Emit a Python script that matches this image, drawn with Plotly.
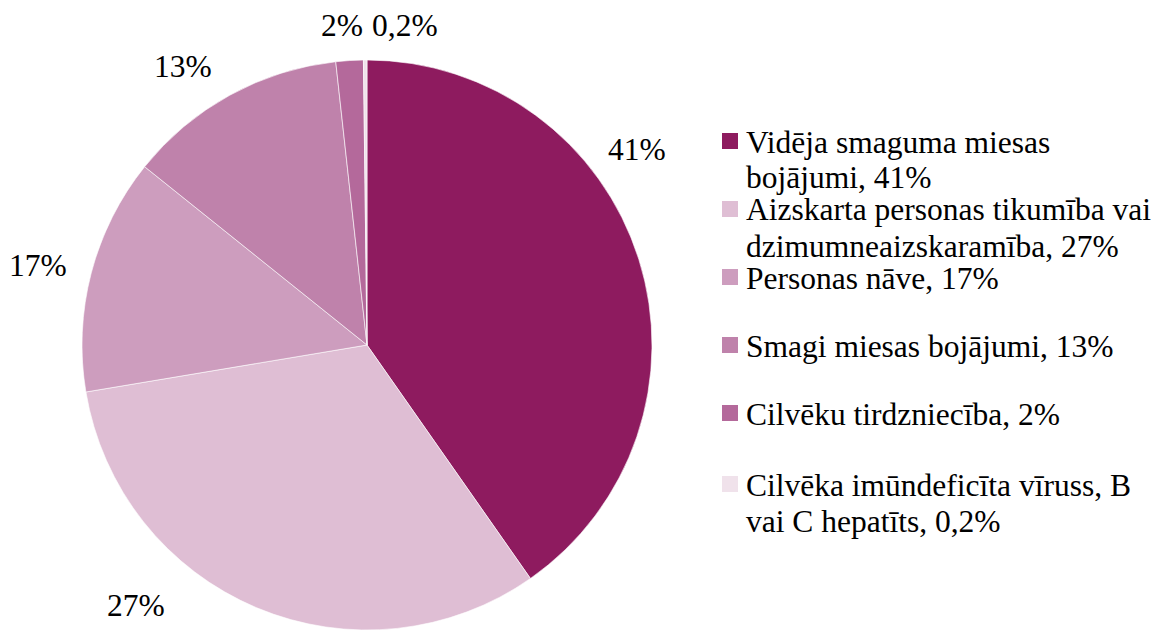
import plotly.graph_objects as go

W, H = 1159, 630
OFF = 8  # page body margin in the browser

# --- data ---
categories = [
    "Vidēja smaguma miesas bojājumi",
    "Aizskarta personas tikumība vai dzimumneaizskaramība",
    "Personas nāve",
    "Smagi miesas bojājumi",
    "Cilvēku tirdzniecība",
    "Cilvēka imūndeficīta vīruss, B vai C hepatīts",
]
# slice shares as drawn in the picture (%)
shares = [40.3, 32.1, 13.4, 12.5, 1.55, 0.2]
# data-label texts as printed on the chart
label_texts = ["41%", "27%", "17%", "13%", "2%", "0,2%"]
legend_lines = [
    ["Vidēja smaguma miesas", "bojājumi, 41%"],
    ["Aizskarta personas tikumība vai", "dzimumneaizskaramība, 27%"],
    ["Personas nāve, 17%"],
    ["Smagi miesas bojājumi, 13%"],
    ["Cilvēku tirdzniecība, 2%"],
    ["Cilvēka imūndeficīta vīruss, B", "vai C hepatīts, 0,2%"],
]

# --- styles / layout positions (screen pixels) ---
colors = ["#8E1B5F", "#DFBED4", "#CD9DBE", "#BF82AB", "#B4699B", "#F0E2EB"]
FONT = "Liberation Serif, Times New Roman, serif"
FS = 31.5
cx, cy, r = 367, 345, 285
label_pos = [(637, 150), (136, 605), (38, 265), (183, 66), (342, 25), (405, 25)]
legend_line_y = [[142, 178], [210, 246], [278], [346], [414], [485, 521]]
legend_text_x = 744
sq_x0, sq_size = 722, 16


def px(x):
    return (x - OFF) / W


def py(y):
    return 1 - (y - OFF) / H


fig = go.Figure(
    go.Pie(
        labels=categories,
        values=shares,
        sort=False,
        direction="clockwise",
        rotation=0,
        marker=dict(colors=colors, line=dict(color="white", width=0.6)),
        textinfo="none",
        hoverinfo="label+percent",
        showlegend=False,
        domain=dict(x=[px(cx - r), px(cx + r)], y=[py(cy + r), py(cy - r)]),
    )
)

annotations = []
for t, (x, y) in zip(label_texts, label_pos):
    annotations.append(dict(
        x=px(x), y=py(y), xref="paper", yref="paper", text=t, showarrow=False,
        xanchor="center", yanchor="middle",
        font=dict(family=FONT, size=FS, color="#000000"),
    ))

shapes = []
for lines, ys, col in zip(legend_lines, legend_line_y, colors):
    for line, y in zip(lines, ys):
        annotations.append(dict(
            x=px(legend_text_x), y=py(y), xref="paper", yref="paper", text=line,
            showarrow=False, xanchor="left", yanchor="middle",
            font=dict(family=FONT, size=FS, color="#000000"),
        ))
    yc = ys[0] - 1
    shapes.append(dict(
        type="rect", xref="paper", yref="paper",
        x0=px(sq_x0), x1=px(sq_x0 + sq_size),
        y0=py(yc + sq_size / 2), y1=py(yc - sq_size / 2),
        fillcolor=col, line=dict(width=0),
    ))

fig.update_layout(
    width=W, height=H,
    margin=dict(l=0, r=0, t=0, b=0),
    paper_bgcolor="white", plot_bgcolor="white",
    annotations=annotations, shapes=shapes,
)

fig.write_html("out.html")
